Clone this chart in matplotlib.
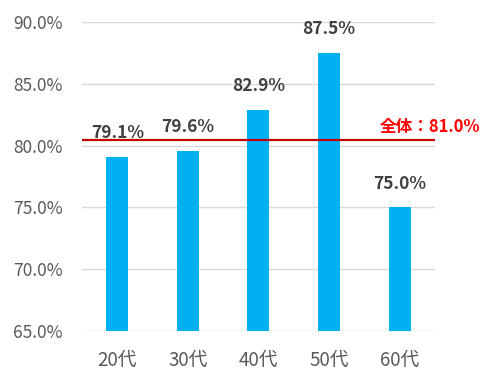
import matplotlib; matplotlib.use('Agg')
import numpy as np
from matplotlib import pyplot as plt
from matplotlib.ticker import FuncFormatter

plt.rcParams['font.family'] = ['Noto Sans CJK JP', 'DejaVu Sans']

ages = ['20代', '30代', '40代', '50代', '60代']
rates = [79.1, 79.6, 82.9, 87.5, 75.0]
overall_line = 80.45
overall_label = '全体：81.0%'

fig = plt.figure(figsize=(4.96, 3.89), dpi=100)
ax = fig.add_axes([0.165, 0.149, 0.712, 0.794])

x = np.arange(len(ages))
ax.bar(x, rates, width=0.31, color='#00B0F0', zorder=2)

# value labels above the bars
for xi, v in zip(x, rates):
    ax.annotate('{:.1f}%'.format(v), (xi, v), xytext=(0, 17),
                textcoords='offset points', ha='center', va='center',
                fontsize=12.5, fontweight='bold', color='#404040')

ax.axhline(overall_line, color='#C00000', lw=1.6, zorder=3)
ax.text(3.72, 81.5, overall_label, ha='left', va='center',
        fontsize=12, fontweight='bold', color='#FF0000', clip_on=False)

ax.set_xlim(-0.5, 4.5)
ax.set_ylim(65, 90)
ax.set_yticks(np.arange(65, 90.1, 5))
ax.yaxis.set_major_formatter(FuncFormatter(lambda v, p: '{:.1f}%'.format(v)))
ax.set_xticks(x)
ax.set_xticklabels(ages)

ax.grid(axis='y', color='#D9D9D9', lw=1, zorder=0)
ax.set_axisbelow(True)
for s in ax.spines.values():
    s.set_visible(False)
ax.tick_params(axis='both', length=0, colors='#595959')
ax.tick_params(axis='y', pad=14, labelsize=12.5)
ax.tick_params(axis='x', pad=14, labelsize=13.5)

fig.savefig('out.png', dpi=100)
